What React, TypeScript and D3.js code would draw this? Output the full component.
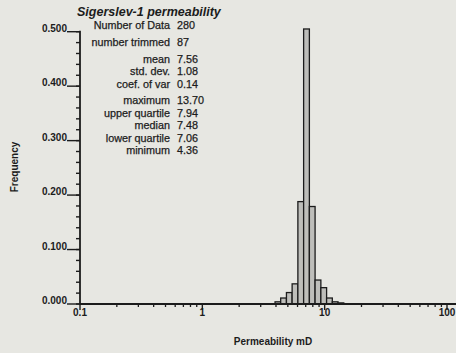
import React from "react";
import * as d3 from "d3";

const binEdges = [3.93, 4.37, 4.87, 5.42, 6.04, 6.73, 7.5, 8.35, 9.31, 10.37, 11.55, 12.86, 14.33];
const frequencies = [0.004, 0.011, 0.021, 0.037, 0.188, 0.505, 0.179, 0.044, 0.03, 0.011, 0.004, 0.002];
const xTickValues = [0.1, 1, 10, 100];
const xTickLabels = ["0.1", "1", "10", "100"];
const yTickValues = [0, 0.1, 0.2, 0.3, 0.4, 0.5];
const yTickLabels = ["0.000", "0.100", "0.200", "0.300", "0.400", "0.500"];
const statLabels = ["Number of Data", "number trimmed", "mean", "std. dev.", "coef. of var", "maximum", "upper quartile", "median", "lower quartile", "minimum"];
const statValues = ["280", "87", "7.56", "1.08", "0.14", "13.70", "7.94", "7.48", "7.06", "4.36"];
const statRowY = [28.5, 45.5, 62.5, 75, 87.5, 104, 116.5, 129, 141.5, 154];

const W = 456, H = 353;
const ink = "#1c1c1c";
const font = "'Liberation Sans', Arial, sans-serif";

export default function App() {
  const x = d3.scaleLog().domain([0.1, 100]).range([80, 447]);
  const y = d3.scaleLinear().domain([0, 0.5]).range([304, 31.7]);
  const x0 = 80, y0 = 304;

  const minorX: number[] = [];
  for (let dec = 0.1; dec < 100; dec *= 10) {
    for (let m = 2; m <= 9; m++) minorX.push(dec * m);
  }
  const minorY = d3.range(0, 0.5001, 0.02);

  return (
    <svg
      width={W}
      height={H}
      style={{ display: "block", position: "fixed", left: 0, top: 0, fontFamily: font }}
    >
      <rect width={W} height={H} fill="#e7e7e2" />
      {frequencies.map((f, i) => (
        <rect
          key={i}
          x={x(binEdges[i])}
          y={y(f)}
          width={x(binEdges[i + 1]) - x(binEdges[i])}
          height={y0 - y(f)}
          fill="#bebeba"
          stroke={ink}
          strokeWidth={1.3}
        />
      ))}
      <line x1={x0} x2={x0} y1={y(0.5) - 1} y2={y0} stroke={ink} strokeWidth={1.8} />
      <line x1={x0} x2={W} y1={y0} y2={y0} stroke={ink} strokeWidth={1.8} />
      {minorY.map((v, i) => (
        <line key={"my" + i} x1={x0 - 4} x2={x0} y1={y(v)} y2={y(v)} stroke={ink} strokeWidth={1.4} />
      ))}
      {yTickValues.map((v, i) => (
        <g key={"y" + i}>
          <line x1={x0 - 13} x2={x0} y1={y(v)} y2={y(v)} stroke={ink} strokeWidth={1.4} />
          <text x={x0 - 13} y={y(v)} textAnchor="end" fontSize={10} fontWeight="bold" fill={ink}>
            {yTickLabels[i]}
          </text>
        </g>
      ))}
      {minorX.map((v, i) => (
        <line key={"mx" + i} x1={x(v)} x2={x(v)} y1={y0} y2={y0 + 3} stroke={ink} strokeWidth={1.3} />
      ))}
      {xTickValues.map((v, i) => (
        <g key={"x" + i}>
          <line x1={x(v)} x2={x(v)} y1={y0} y2={y0 + 6} stroke={ink} strokeWidth={1.4} />
          <text x={x(v)} y={y0 + 12} textAnchor="middle" fontSize={10} fontWeight="bold" fill={ink}>
            {xTickLabels[i]}
          </text>
        </g>
      ))}
      <text x={273} y={345} textAnchor="middle" fontSize={10} fontWeight="bold" fill={ink}>
        Permeability mD
      </text>
      <text transform="translate(18,167) rotate(-90)" textAnchor="middle" fontSize={10} fontWeight="bold" fill={ink}>
        Frequency
      </text>
      <text x={77} y={15.5} fontSize={12.5} fontWeight="bold" fontStyle="italic" fill={ink}>
        Sigerslev-1 permeability
      </text>
      {statLabels.map((s, i) => (
        <g key={"s" + i}>
          <text x={170} y={statRowY[i]} textAnchor="end" fontSize={10.8} fill={ink} stroke={ink} strokeWidth={0.25}>
            {s}
          </text>
          <text x={177} y={statRowY[i]} fontSize={10.8} fill={ink} stroke={ink} strokeWidth={0.25}>
            {statValues[i]}
          </text>
        </g>
      ))}
    </svg>
  );
}
